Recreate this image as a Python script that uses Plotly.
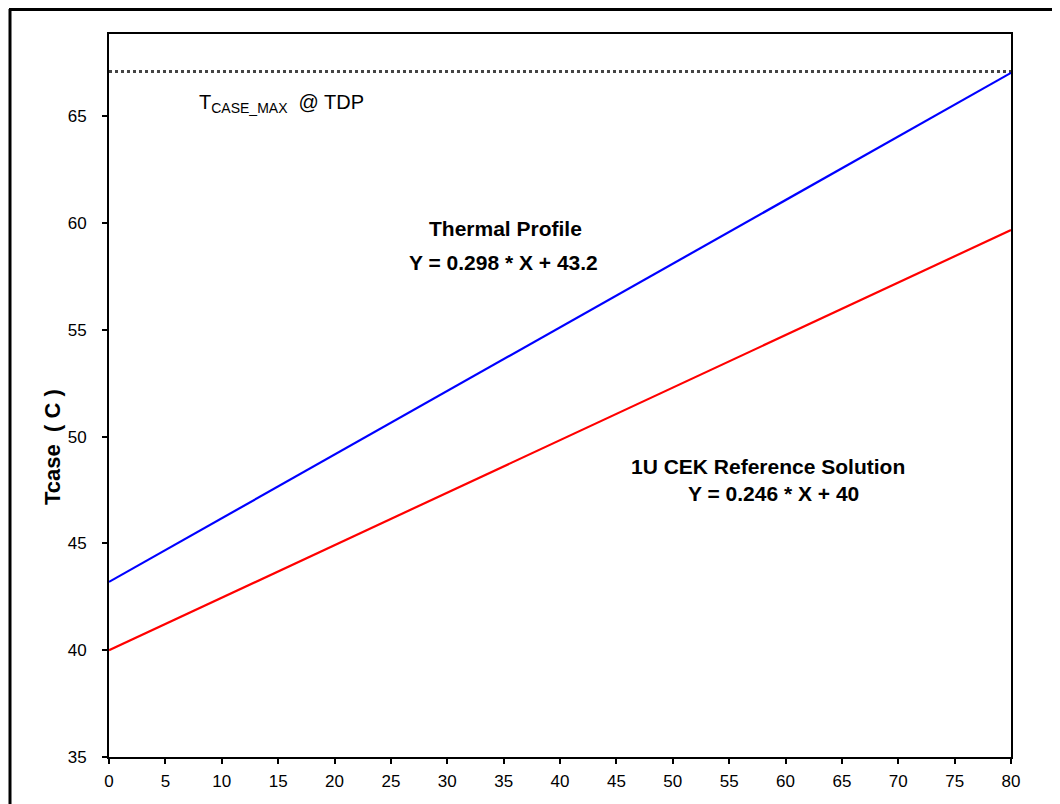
import plotly.graph_objects as go

# Data
x_ends = [0, 80]
profile_y = [43.2, 67.04]      # Thermal Profile: Y = 0.298*X + 43.2
cek_y = [40.0, 59.68]          # 1U CEK Reference Solution: Y = 0.246*X + 40
tcase_max = [67.1, 67.1]       # TCASE_MAX @ TDP
x_ticks = list(range(0, 81, 5))
y_ticks = [35, 40, 45, 50, 55, 60, 65]

FONT = "Arial, 'Liberation Sans', sans-serif"

fig = go.Figure()
fig.add_trace(go.Scatter(x=x_ends, y=tcase_max, mode="lines",
                         line=dict(color="#444444", width=3, dash="dot"),
                         showlegend=False, hoverinfo="skip"))
fig.add_trace(go.Scatter(x=x_ends, y=profile_y, mode="lines",
                         line=dict(color="#0000ff", width=2.2),
                         showlegend=False))
fig.add_trace(go.Scatter(x=x_ends, y=cek_y, mode="lines",
                         line=dict(color="#ff0000", width=2.2),
                         showlegend=False))

OFF = 8  # page body margin
W, H = 1060, 804
PL, PR, PT, PB = 109 - OFF, 1011 - OFF, 34 - OFF, 757 - OFF
L, R, T, B = PL, W - PR, PT, H - PB
pw, ph = PR - PL, PB - PT

def px(xp):
    return (xp - OFF - PL) / pw

def py(yp):
    return (PB - (yp - OFF)) / ph

fig.update_layout(
    width=W, height=H,
    margin=dict(l=L, r=R, t=T, b=B),
    plot_bgcolor="white", paper_bgcolor="white",
    font=dict(family=FONT, color="black", size=17),
    showlegend=False,
)
fig.update_xaxes(range=[0, 80], tickvals=x_ticks, ticks="outside", ticklen=5,
                 tickwidth=2, tickcolor="black", showline=True, linecolor="black",
                 linewidth=2, mirror=True, showgrid=False, zeroline=False,
                 tickfont=dict(size=17), ticklabelstandoff=3)
fig.update_yaxes(range=[35, 68.86], tickvals=y_ticks, ticks="outside", ticklen=5,
                 tickwidth=2, tickcolor="black", showline=True, linecolor="black",
                 linewidth=2, mirror=True, showgrid=False, zeroline=False,
                 tickfont=dict(size=17), ticklabelstandoff=12)

anns = [
    dict(text="T<sub>CASE_MAX</sub>  @ TDP", x=px(197), y=py(103), xanchor="left",
         font=dict(size=20)),
    dict(text="<b>Thermal Profile</b>", x=px(505), y=py(228), font=dict(size=21)),
    dict(text="<b>Y = 0.298 * X + 43.2</b>", x=px(503), y=py(262), font=dict(size=21)),
    dict(text="<b>1U CEK Reference Solution</b>", x=px(768), y=py(466), font=dict(size=21)),
    dict(text="<b>Y = 0.246 * X + 40</b>", x=px(773), y=py(494), font=dict(size=21)),
    dict(text="<b>Tcase\u00a0\u00a0( C )</b>", x=px(52), y=py(447), textangle=-90,
         font=dict(size=22)),
]
for a in anns:
    a.update(xref="paper", yref="paper", showarrow=False)
    a.setdefault("xanchor", "center")
    a["yanchor"] = "middle"
    fig.add_annotation(**a)

# Outer frame (left and top edges)
fig.add_shape(type="line", xref="paper", yref="paper", x0=px(10), x1=px(10),
              y0=py(9), y1=py(820), line=dict(color="black", width=3))
fig.add_shape(type="line", xref="paper", yref="paper", x0=px(9), x1=px(1075),
              y0=py(9.5), y1=py(9.5), line=dict(color="black", width=3))

fig.write_html("out.html")
